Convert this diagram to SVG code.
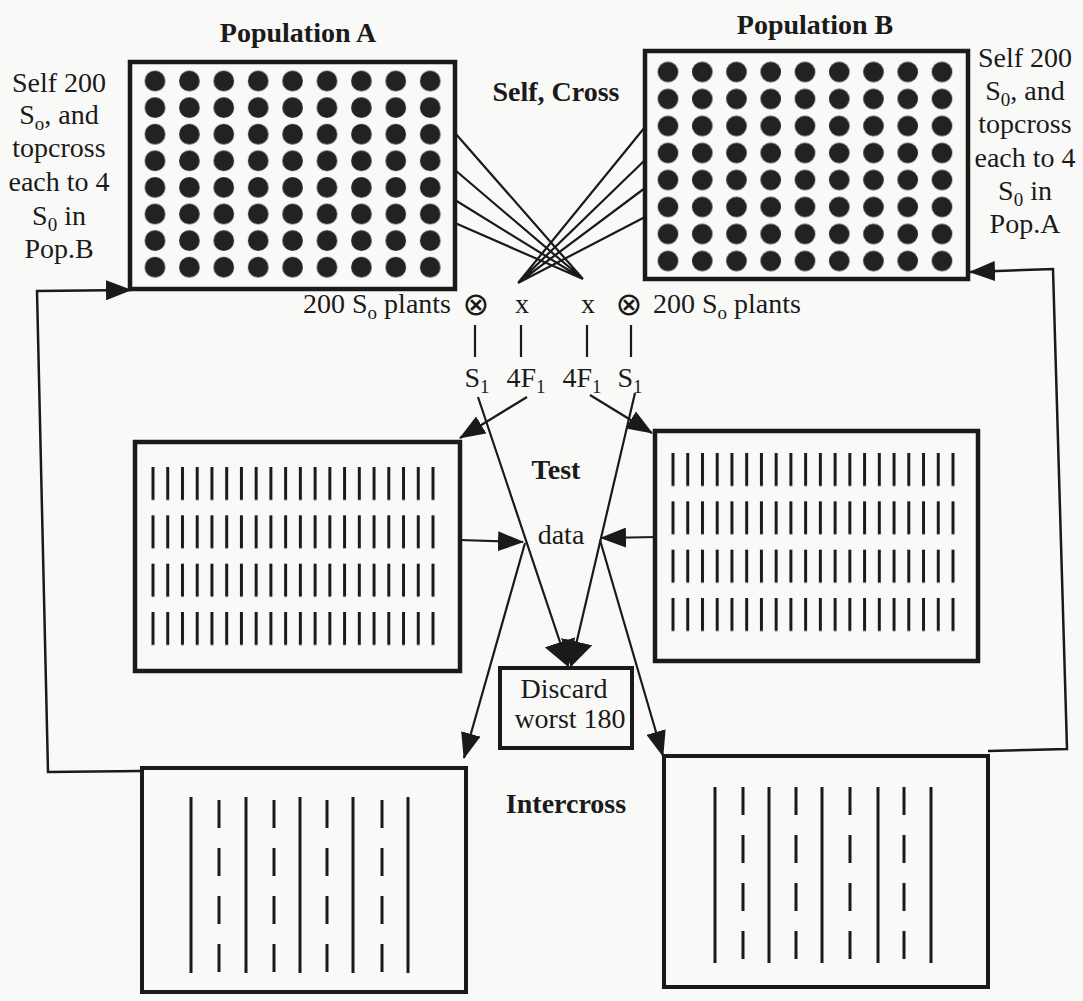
<svg xmlns="http://www.w3.org/2000/svg" width="1083" height="1001" viewBox="0 0 1083 1001">
<defs>
<style>
.t{font-family:"Liberation Serif","Times New Roman","DejaVu Serif",serif;font-size:28px;fill:#1a1a1a}
.b{font-weight:bold}
.sym{font-family:"DejaVu Sans","Liberation Serif",sans-serif;font-size:32px;fill:#1a1a1a}
.box{fill:none;stroke:#1a1a1a;stroke-width:4.5}
.ln{fill:none;stroke:#1a1a1a;stroke-width:2.2}
.lp{fill:none;stroke:#1a1a1a;stroke-width:2.5}
.bar{stroke:#1a1a1a;stroke-width:3;fill:none}
</style>
<pattern id="dotA" patternUnits="userSpaceOnUse" x="137.8" y="67.7" width="34.4" height="26.6"><circle cx="17.2" cy="13.3" r="10.3" fill="#222"/></pattern>
<pattern id="dotB" patternUnits="userSpaceOnUse" x="650.875" y="58.5" width="34.25" height="27"><circle cx="17.125" cy="13.5" r="10.3" fill="#222"/></pattern>
<pattern id="barL" patternUnits="userSpaceOnUse" x="145.63" y="467" width="14.737" height="48.33"><rect x="5.87" y="0" width="3" height="33" fill="#1a1a1a"/></pattern>
<pattern id="barR" patternUnits="userSpaceOnUse" x="665.63" y="453" width="14.737" height="48.33"><rect x="5.87" y="0" width="3" height="33" fill="#1a1a1a"/></pattern>
<marker id="ah" markerUnits="userSpaceOnUse" markerWidth="26" markerHeight="20" refX="25" refY="10" orient="auto"><path d="M0,0L26,10L0,20z" fill="#1a1a1a"/></marker>
<marker id="ahB" markerUnits="userSpaceOnUse" markerWidth="26" markerHeight="32" refX="25" refY="16" orient="auto"><path d="M0,0L26,16L0,32z" fill="#1a1a1a"/></marker>
</defs>
<rect x="0" y="0" width="1083" height="1001" fill="#f9f9f7"/>

<g id="popA">
<text class="t b" x="298" y="42" text-anchor="middle">Population A</text>
<rect class="box" x="130" y="62" width="325" height="227"/>
<rect x="137.8" y="67.7" width="309.6" height="212.8" fill="url(#dotA)"/>
</g>
<g id="popA-note">
<text class="t" x="59" y="92" text-anchor="middle">Self 200</text>
<text class="t" x="59" y="124" text-anchor="middle">S<tspan dy="6" font-size="19">o</tspan><tspan dy="-6">, and</tspan></text>
<text class="t" x="59" y="157" text-anchor="middle">topcross</text>
<text class="t" x="59" y="191" text-anchor="middle">each to 4</text>
<text class="t" x="59" y="225" text-anchor="middle">S<tspan dy="6" font-size="19">0</tspan><tspan dy="-6"> in</tspan></text>
<text class="t" x="59" y="258" text-anchor="middle">Pop.B</text>
</g>

<g id="popB">
<text class="t b" x="815" y="34" text-anchor="middle">Population B</text>
<rect class="box" x="645" y="51" width="323" height="228"/>
<rect x="650.875" y="58.5" width="308.25" height="216" fill="url(#dotB)"/>
</g>
<g id="popB-note">
<text class="t" x="1025" y="67" text-anchor="middle">Self 200</text>
<text class="t" x="1025" y="100" text-anchor="middle">S<tspan dy="6" font-size="19">0</tspan><tspan dy="-6">, and</tspan></text>
<text class="t" x="1025" y="133" text-anchor="middle">topcross</text>
<text class="t" x="1025" y="167" text-anchor="middle">each to 4</text>
<text class="t" x="1025" y="200" text-anchor="middle">S<tspan dy="6" font-size="19">0</tspan><tspan dy="-6"> in</tspan></text>
<text class="t" x="1025" y="233" text-anchor="middle">Pop.A</text>
</g>

<g id="selfcross-label">
<text class="t b" x="556" y="101" text-anchor="middle">Self, Cross</text>
</g>

<g id="mating">
<text class="t" x="451" y="313" text-anchor="end">200 S<tspan dy="6" font-size="19">o</tspan><tspan dy="-6"> plants</tspan></text>
<text class="sym" x="476" y="315" text-anchor="middle">⊗</text>
<text class="t" x="522" y="313" text-anchor="middle">x</text>
<text class="t" x="588" y="313" text-anchor="middle">x</text>
<text class="sym" x="629" y="315" text-anchor="middle">⊗</text>
<text class="t" x="653" y="313">200 S<tspan dy="6" font-size="19">o</tspan><tspan dy="-6"> plants</tspan></text>
<path class="ln" d="M475,325V357M521,325V357M587,325V357M631,325V357"/>
<text class="t" x="477" y="387" text-anchor="middle">S<tspan dy="6" font-size="19">1</tspan></text>
<text class="t" x="526" y="387" text-anchor="middle">4F<tspan dy="6" font-size="19">1</tspan></text>
<text class="t" x="582" y="387" text-anchor="middle">4F<tspan dy="6" font-size="19">1</tspan></text>
<text class="t" x="630" y="387" text-anchor="middle">S<tspan dy="6" font-size="19">1</tspan></text>
</g>

<g id="testA">
<rect class="box" x="135" y="442" width="325" height="229"/>
<rect x="145.63" y="467" width="294.74" height="180" fill="url(#barL)"/>
</g>
<g id="testB">
<rect class="box" x="655" y="431" width="323" height="230"/>
<rect x="665.63" y="453" width="294.74" height="180" fill="url(#barR)"/>
</g>
<g id="test-label">
<text class="t b" x="556" y="479" text-anchor="middle">Test</text>
</g>
<g id="data">
<text class="t" x="561" y="544" text-anchor="middle">data</text>
</g>

<g id="discard">
<rect class="box" x="500" y="668" width="132" height="80" style="stroke-width:4"/>
<text class="t" x="564" y="698" text-anchor="middle">Discard</text>
<text class="t" x="570" y="728" text-anchor="middle">worst 180</text>
</g>

<g id="intercrossA">
<rect class="box" x="142" y="768" width="324" height="224" style="stroke-width:4"/>
<path class="bar" d="M191,797V973M246,797V973M300,797V973M353,797V973M408,797V973"/>
<path class="bar" stroke-dasharray="28 20" d="M219,800V972M274,800V972M327,800V972M382,800V972"/>
</g>
<g id="intercrossB">
<rect class="box" x="664" y="756" width="324" height="231" style="stroke-width:4"/>
<path class="bar" d="M715,787V963M769,787V963M822,787V963M878,787V963M931,787V963"/>
<path class="bar" stroke-dasharray="28 20" d="M743,787V960M796,787V960M850,787V960M904,787V960"/>
</g>
<g id="intercross-label">
<text class="t b" x="566" y="813" text-anchor="middle">Intercross</text>
</g>

<g id="connectors">
<path class="ln" d="M455,133L583,279M455,170L583,279M455,200L583,279M455,223L583,279"/>
<path class="ln" d="M645,127L518,283M645,160L518,283M645,188L518,283M645,217L518,283"/>
<line class="ln" x1="527" y1="397" x2="460" y2="438" marker-end="url(#ah)"/>
<line class="ln" x1="590" y1="395" x2="652" y2="433" marker-end="url(#ah)"/>
<line class="ln" x1="478" y1="397" x2="568" y2="666" marker-end="url(#ahB)"/>
<line class="ln" x1="635" y1="393" x2="571" y2="666" marker-end="url(#ahB)"/>
<line class="ln" x1="460" y1="540" x2="523" y2="542" marker-end="url(#ah)"/>
<line class="ln" x1="657" y1="537" x2="601" y2="538" marker-end="url(#ah)"/>
<line class="ln" x1="525" y1="543" x2="464" y2="758" marker-end="url(#ah)"/>
<line class="ln" x1="600" y1="540" x2="663" y2="756" marker-end="url(#ah)"/>
<polyline class="lp" points="142,771 48,772 37,291 131,290" marker-end="url(#ah)"/>
<polyline class="lp" points="988,751 1067,749 1053,269 970,272" marker-end="url(#ah)"/>
</g>
</svg>
